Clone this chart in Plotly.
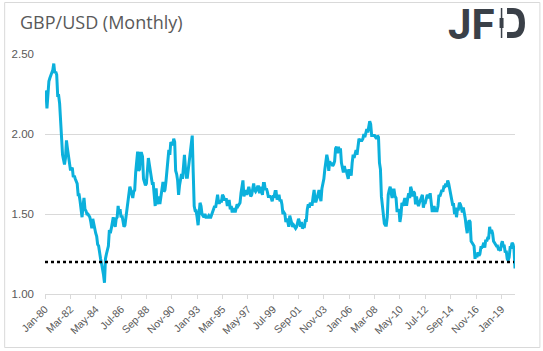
import plotly.graph_objects as go

# Monthly GBP/USD, Jan-1980 .. Mar-2020
y1980 = [2.27, 2.26, 2.16, 2.26, 2.33, 2.35, 2.37, 2.39, 2.40, 2.44, 2.38, 2.39]
y1981 = [2.37, 2.24, 2.24, 2.19, 2.07, 1.98, 1.87, 1.84, 1.81, 1.85, 1.96, 1.91]
y1982 = [1.86, 1.80, 1.78, 1.78, 1.79, 1.73, 1.74, 1.72, 1.70, 1.69, 1.62, 1.62]
y1983 = [1.58, 1.52, 1.48, 1.55, 1.60, 1.53, 1.52, 1.50, 1.50, 1.49, 1.48, 1.45]
y1984 = [1.41, 1.47, 1.44, 1.39, 1.38, 1.36, 1.31, 1.30, 1.24, 1.22, 1.19, 1.16]
y1985 = [1.12, 1.07, 1.22, 1.25, 1.29, 1.30, 1.40, 1.38, 1.41, 1.44, 1.48, 1.44]
y1986 = [1.42, 1.47, 1.48, 1.55, 1.50, 1.53, 1.48, 1.49, 1.44, 1.42, 1.43, 1.48]
y1987 = [1.52, 1.55, 1.61, 1.67, 1.65, 1.61, 1.60, 1.64, 1.65, 1.76, 1.83, 1.89]
y1988 = [1.77, 1.78, 1.88, 1.88, 1.86, 1.72, 1.70, 1.68, 1.69, 1.75, 1.85, 1.81]
y1989 = [1.76, 1.74, 1.69, 1.69, 1.58, 1.55, 1.66, 1.56, 1.61, 1.57, 1.57, 1.61]
y1990 = [1.66, 1.70, 1.64, 1.65, 1.70, 1.78, 1.85, 1.90, 1.87, 1.95, 1.94, 1.93]
y1991 = [1.97, 1.95, 1.77, 1.75, 1.71, 1.62, 1.68, 1.71, 1.75, 1.72, 1.79, 1.87]
y1992 = [1.79, 1.73, 1.73, 1.78, 1.83, 1.90, 1.92, 1.99, 1.76, 1.55, 1.52, 1.52]
y1993 = [1.48, 1.43, 1.50, 1.57, 1.55, 1.50, 1.49, 1.48, 1.50, 1.48, 1.48, 1.48]
y1994 = [1.49, 1.48, 1.48, 1.50, 1.51, 1.54, 1.55, 1.54, 1.58, 1.62, 1.57, 1.57]
y1995 = [1.58, 1.58, 1.62, 1.61, 1.59, 1.59, 1.59, 1.55, 1.58, 1.58, 1.53, 1.55]
y1996 = [1.51, 1.53, 1.53, 1.51, 1.55, 1.56, 1.55, 1.56, 1.57, 1.63, 1.68, 1.71]
y1997 = [1.61, 1.63, 1.65, 1.62, 1.64, 1.67, 1.64, 1.61, 1.62, 1.67, 1.69, 1.65]
y1998 = [1.64, 1.65, 1.67, 1.67, 1.63, 1.67, 1.64, 1.62, 1.69, 1.69, 1.65, 1.66]
y1999 = [1.64, 1.61, 1.61, 1.61, 1.60, 1.58, 1.61, 1.61, 1.64, 1.64, 1.59, 1.61]
y2000 = [1.62, 1.58, 1.59, 1.56, 1.50, 1.51, 1.50, 1.45, 1.47, 1.45, 1.42, 1.49]
y2001 = [1.47, 1.44, 1.42, 1.43, 1.42, 1.41, 1.42, 1.45, 1.47, 1.45, 1.42, 1.45]
y2002 = [1.41, 1.42, 1.42, 1.46, 1.46, 1.53, 1.56, 1.54, 1.57, 1.56, 1.56, 1.61]
y2003 = [1.65, 1.58, 1.58, 1.60, 1.64, 1.65, 1.61, 1.58, 1.66, 1.69, 1.72, 1.78]
y2004 = [1.82, 1.87, 1.84, 1.77, 1.83, 1.81, 1.82, 1.80, 1.81, 1.83, 1.91, 1.92]
y2005 = [1.88, 1.92, 1.89, 1.91, 1.82, 1.79, 1.76, 1.80, 1.77, 1.77, 1.73, 1.72]
y2006 = [1.78, 1.75, 1.74, 1.82, 1.87, 1.85, 1.87, 1.90, 1.87, 1.91, 1.97, 1.96]
y2007 = [1.96, 1.96, 1.97, 2.00, 1.98, 2.01, 2.03, 2.01, 2.04, 2.08, 2.06, 1.99]
y2008 = [1.99, 1.99, 1.99, 1.98, 1.97, 1.99, 1.98, 1.82, 1.78, 1.61, 1.54, 1.46]
y2009 = [1.44, 1.43, 1.43, 1.48, 1.62, 1.65, 1.67, 1.63, 1.60, 1.65, 1.65, 1.61]
y2010 = [1.60, 1.52, 1.52, 1.53, 1.45, 1.49, 1.57, 1.55, 1.57, 1.60, 1.56, 1.56]
y2011 = [1.60, 1.63, 1.60, 1.67, 1.65, 1.61, 1.64, 1.63, 1.56, 1.61, 1.57, 1.55]
y2012 = [1.57, 1.59, 1.60, 1.62, 1.54, 1.57, 1.57, 1.59, 1.62, 1.61, 1.60, 1.63]
y2013 = [1.58, 1.52, 1.52, 1.55, 1.52, 1.52, 1.52, 1.55, 1.62, 1.61, 1.64, 1.65]
y2014 = [1.64, 1.67, 1.67, 1.69, 1.67, 1.71, 1.69, 1.66, 1.62, 1.60, 1.56, 1.56]
y2015 = [1.50, 1.54, 1.48, 1.53, 1.53, 1.57, 1.56, 1.54, 1.51, 1.54, 1.51, 1.47]
y2016 = [1.42, 1.38, 1.44, 1.46, 1.45, 1.33, 1.32, 1.31, 1.30, 1.22, 1.25, 1.23]
y2017 = [1.26, 1.24, 1.25, 1.29, 1.29, 1.30, 1.32, 1.29, 1.34, 1.33, 1.35, 1.35]
y2018 = [1.42, 1.38, 1.40, 1.38, 1.33, 1.32, 1.31, 1.30, 1.30, 1.28, 1.28, 1.27]
y2019 = [1.31, 1.33, 1.30, 1.30, 1.26, 1.27, 1.22, 1.21, 1.23, 1.29, 1.29, 1.32]
y2020 = [1.31, 1.28, 1.16]

gbpusd = (y1980 + y1981 + y1982 + y1983 + y1984 + y1985 + y1986 + y1987 + y1988 + y1989
          + y1990 + y1991 + y1992 + y1993 + y1994 + y1995 + y1996 + y1997 + y1998 + y1999
          + y2000 + y2001 + y2002 + y2003 + y2004 + y2005 + y2006 + y2007 + y2008 + y2009
          + y2010 + y2011 + y2012 + y2013 + y2014 + y2015 + y2016 + y2017 + y2018 + y2019
          + y2020)

months = list(range(len(gbpusd)))
support_level = 1.20

tick_labels = ["Jan-80", "Mar-82", "May-84", "Jul-86", "Sep-88", "Nov-90", "Jan-93",
               "Mar-95", "May-97", "Jul-99", "Sep-01", "Nov-03", "Jan-06", "Mar-08",
               "May-10", "Jul-12", "Sep-14", "Nov-16", "Jan-19"]
tick_step = 26
tick_positions = [i * tick_step for i in range(len(tick_labels))]

y_ticks = [1.00, 1.50, 2.00, 2.50]
y_tick_text = ["1.00", "1.50", "2.00", "2.50"]

# plot area in pixels (for placing decorations)
PL, PR, PT, PB = 43, 515, 54, 294


def px(x):
    return (x - PL) / (PR - PL)


def py(y):
    return (PB - y) / (PB - PT)


fig = go.Figure()
fig.add_trace(go.Scatter(
    x=months, y=gbpusd, mode="lines",
    line=dict(color="#0bb0dc", width=3),
    hoverinfo="skip", showlegend=False))
fig.add_trace(go.Scatter(
    x=[months[0], months[-2]], y=[support_level, support_level], mode="lines",
    line=dict(color="#000000", width=2.6, dash="dot"),
    hoverinfo="skip", showlegend=False))

grey = "#595959"
logo = "#3a4048"
d_path = (f"M {px(507)},{py(11)} L {px(513)},{py(11)} "
          f"Q {px(522)},{py(11)} {px(522)},{py(23)} "
          f"Q {px(522)},{py(35)} {px(513)},{py(35)} L {px(507)},{py(35)}")

fig.update_layout(
    width=543, height=351,
    margin=dict(l=PL, r=543 - PR, t=PT, b=351 - PB),
    paper_bgcolor="white", plot_bgcolor="white",
    font=dict(family="Liberation Sans, Arial, sans-serif", color=grey, size=11),
    xaxis=dict(
        range=[0, months[-1]], tickmode="array",
        tickvals=tick_positions, ticktext=tick_labels, tickangle=-45,
        showgrid=False, zeroline=False,
        showline=True, linecolor="#d9d9d9", linewidth=1,
        ticks="outside", ticklen=4, tickcolor="#d9d9d9",
        tickfont=dict(size=10.5, color=grey)),
    yaxis=dict(
        range=[1.0, 2.5], tickmode="array", tickvals=y_ticks, ticktext=y_tick_text,
        showgrid=True, gridcolor="#d9d9d9", gridwidth=1,
        zeroline=False, showline=False, ticks="",
        ticklabelstandoff=10,
        tickfont=dict(size=11.5, color=grey)),
    annotations=[
        dict(text="GBP/USD (Monthly)", xref="paper", yref="paper",
             x=px(16), y=py(22), xanchor="left", yanchor="middle", showarrow=False,
             font=dict(size=18, color=grey, family="Open Sans, sans-serif")),
        dict(text="<b>JF</b>", xref="paper", yref="paper",
             x=px(497), y=py(25), xanchor="right", yanchor="middle", showarrow=False,
             font=dict(size=42, color=logo, family="Roboto, sans-serif")),
    ],
    shapes=[
        dict(type="rect", xref="paper", yref="paper",
             x0=px(2.5), x1=px(540), y0=py(347.5), y1=py(2.5),
             line=dict(color="#d9d9d9", width=1), fillcolor="rgba(0,0,0,0)"),
        # logo candle and D
        dict(type="line", xref="paper", yref="paper",
             x0=px(501.5), x1=px(501.5), y0=py(8), y1=py(38),
             line=dict(color=logo, width=1.5)),
        dict(type="rect", xref="paper", yref="paper",
             x0=px(499.5), x1=px(503.5), y0=py(28), y1=py(18),
             line=dict(color=logo, width=0), fillcolor=logo),
        dict(type="path", xref="paper", yref="paper", path=d_path,
             line=dict(color=logo, width=6), fillcolor="rgba(0,0,0,0)"),
    ],
)

fig.write_html("out.html")
